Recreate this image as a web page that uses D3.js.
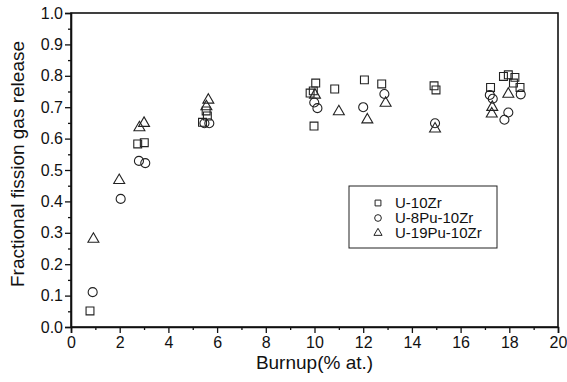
<!DOCTYPE html>
<html>
<head>
<meta charset="utf-8">
<script src="https://cdn.jsdelivr.net/npm/d3@7"></script>
<style>
  body { margin: 0; background: #fff; }
  text { font-family: "Liberation Sans", Arial, sans-serif; fill: #111; }
</style>
</head>
<body>
<div id="chart"></div>
<script>
// data: [burnup, fraction]
const u10zr = [
  [0.78, 0.051], [2.74, 0.583], [3.01, 0.587],
  [5.40, 0.652], [5.60, 0.672], [5.55, 0.688],
  [9.82, 0.745], [9.95, 0.752], [10.05, 0.777], [9.98, 0.640],
  [10.83, 0.758], [12.05, 0.787], [12.76, 0.774],
  [14.91, 0.768], [14.99, 0.755],
  [17.23, 0.763], [17.76, 0.798], [17.96, 0.803], [18.23, 0.795],
  [18.17, 0.777], [18.44, 0.763]
];
const u8pu10zr = [
  [0.89, 0.111], [2.04, 0.408], [2.79, 0.529], [3.05, 0.522],
  [5.48, 0.649], [5.68, 0.649],
  [9.99, 0.715], [10.12, 0.697], [12.0, 0.700], [12.87, 0.742],
  [14.95, 0.649],
  [17.20, 0.739], [17.32, 0.727], [17.96, 0.683], [17.80, 0.660],
  [18.47, 0.741]
];
const u19pu10zr = [
  [0.92, 0.280], [1.98, 0.467], [2.81, 0.635], [3.00, 0.649],
  [5.56, 0.702], [5.64, 0.723],
  [10.02, 0.739], [11.0, 0.686], [12.17, 0.660], [12.92, 0.713],
  [14.95, 0.631],
  [17.30, 0.700], [17.28, 0.679], [17.96, 0.742]
];
const seriesNames = ["U-10Zr", "U-8Pu-10Zr", "U-19Pu-10Zr"];
const xTicks = [0, 2, 4, 6, 8, 10, 12, 14, 16, 18, 20];
const yTicks = [0, 0.1, 0.2, 0.3, 0.4, 0.5, 0.6, 0.7, 0.8, 0.9, 1.0];

const width = 567, height = 382;
const margin = { left: 71, right: 9, top: 13, bottom: 55 };
const innerWidth = width - margin.left - margin.right;
const innerHeight = height - margin.top - margin.bottom;

const svg = d3.select("#chart").append("svg")
  .attr("width", width)
  .attr("height", height);

const g = svg.append("g")
  .attr("transform", `translate(${margin.left}, ${margin.top})`);

const xScale = d3.scaleLinear().domain([0, 20]).range([0, innerWidth]);
const yScale = d3.scaleLinear().domain([0, 1]).range([innerHeight, 0]);

// minor ticks
g.append("g")
  .attr("transform", `translate(0, ${innerHeight})`)
  .call(d3.axisBottom(xScale).tickValues(d3.range(1, 20, 2)).tickSize(3).tickFormat(""))
  .call(a => a.select(".domain").remove());
g.append("g")
  .call(d3.axisLeft(yScale).tickValues(d3.range(0.05, 1, 0.1)).tickSize(3).tickFormat(""))
  .call(a => a.select(".domain").remove());

// major axes
g.append("g")
  .attr("transform", `translate(0, ${innerHeight})`)
  .call(d3.axisBottom(xScale).tickValues(xTicks).tickSize(6).tickPadding(4).tickFormat(d3.format("d")));
g.append("g")
  .call(d3.axisLeft(yScale).tickValues(yTicks).tickSize(6).tickPadding(2).tickFormat(d3.format(".1f")));

g.selectAll(".tick line").attr("stroke", "#111").attr("stroke-width", 1.3);
g.selectAll(".domain").attr("stroke", "#111").attr("stroke-width", 1.6);
g.selectAll(".tick text").style("font-size", "16px").attr("fill", "#111");

// frame top / right
g.append("rect")
  .attr("width", innerWidth)
  .attr("height", innerHeight)
  .attr("fill", "none")
  .attr("stroke", "#111")
  .attr("stroke-width", 1.6);

// axis titles
svg.append("text")
  .text("Burnup(% at.)")
  .attr("x", margin.left + innerWidth / 2)
  .attr("y", 369)
  .attr("text-anchor", "middle")
  .style("font-size", "19px");

svg.append("text")
  .text("Fractional fission gas release")
  .attr("transform", `translate(24, ${margin.top + innerHeight / 2 - 6}) rotate(-90)`)
  .attr("text-anchor", "middle")
  .style("font-size", "19px");

// markers
const symbols = [d3.symbolSquare, d3.symbolCircle, d3.symbolTriangle];
const sizes = [62, 64, 52];
const allSeries = [u10zr, u8pu10zr, u19pu10zr];

allSeries.forEach((data, i) => {
  g.append("g").selectAll("path")
    .data(data)
    .join("path")
    .attr("transform", d => `translate(${xScale(d[0])}, ${yScale(d[1])})`)
    .attr("d", d3.symbol().type(symbols[i]).size(sizes[i]))
    .attr("fill", "none")
    .attr("stroke", "#222")
    .attr("stroke-width", 1.1);
});

// legend
const legend = svg.append("g")
  .attr("transform", "translate(349, 186)");

legend.append("rect")
  .attr("width", 148)
  .attr("height", 62)
  .attr("fill", "none")
  .attr("stroke", "#222")
  .attr("stroke-width", 1);

seriesNames.forEach((name, i) => {
  legend.append("path")
    .attr("transform", `translate(29, ${17 + i * 15})`)
    .attr("d", d3.symbol().type(symbols[i]).size(sizes[i] * 0.55))
    .attr("fill", "none")
    .attr("stroke", "#222")
    .attr("stroke-width", 1);
  legend.append("text")
    .text(name)
    .attr("x", 46)
    .attr("y", 17 + i * 15 + 5)
    .style("font-size", "15px");
});
</script>
</body>
</html>
